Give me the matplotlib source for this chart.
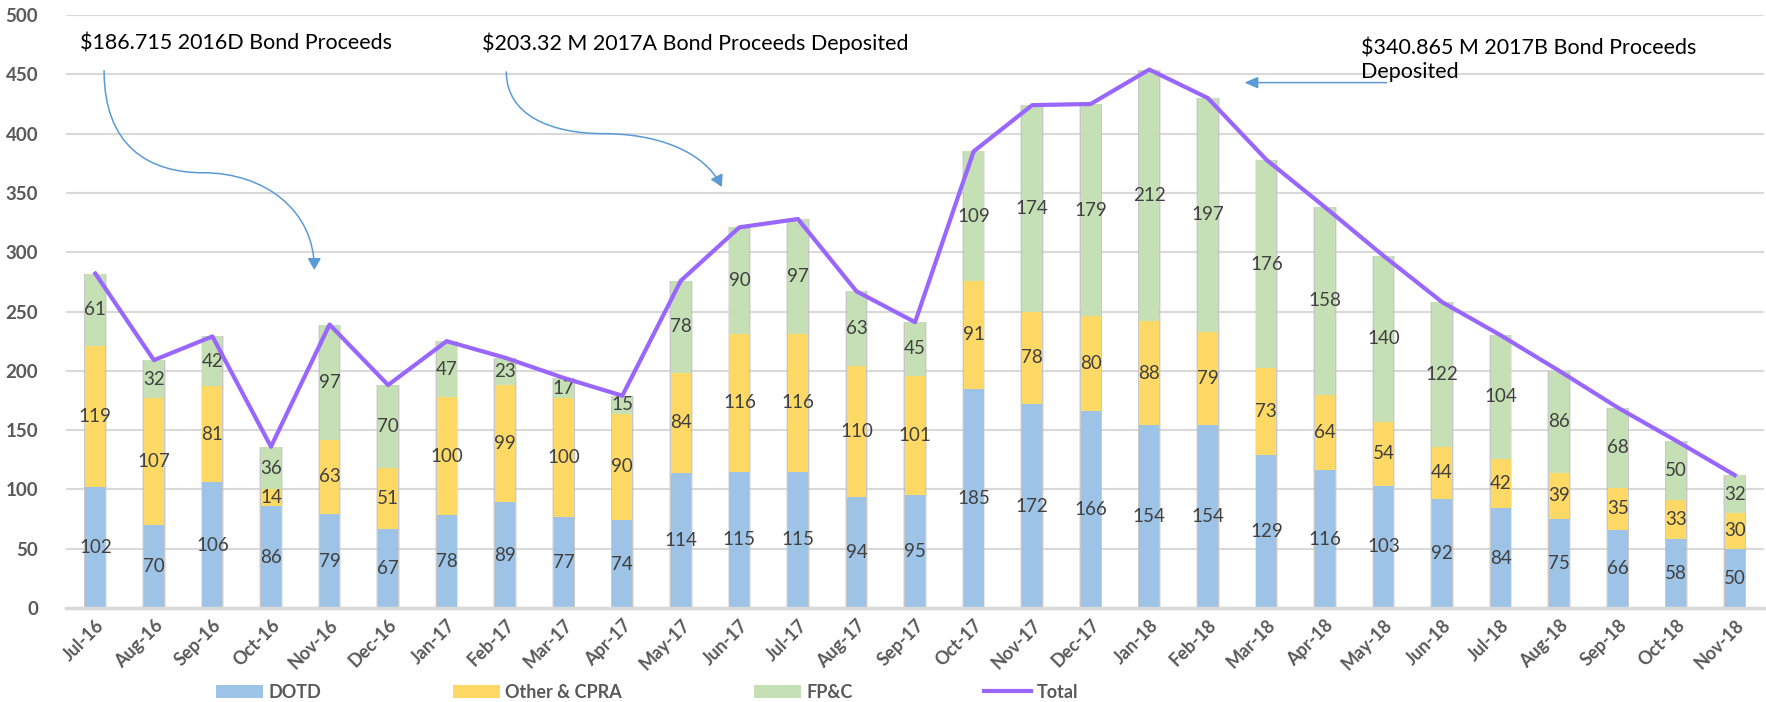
import matplotlib
matplotlib.use('Agg')
import matplotlib.pyplot as plt
import numpy as np
from matplotlib.path import Path
from matplotlib.patches import FancyArrowPatch

plt.rcParams['font.family'] = ['Lato', 'DejaVu Sans']

months = ["Jul-16", "Aug-16", "Sep-16", "Oct-16", "Nov-16", "Dec-16", "Jan-17", "Feb-17",
          "Mar-17", "Apr-17", "May-17", "Jun-17", "Jul-17", "Aug-17", "Sep-17", "Oct-17",
          "Nov-17", "Dec-17", "Jan-18", "Feb-18", "Mar-18", "Apr-18", "May-18", "Jun-18",
          "Jul-18", "Aug-18", "Sep-18", "Oct-18", "Nov-18"]
dotd = [102, 70, 106, 86, 79, 67, 78, 89, 77, 74, 114, 115, 115, 94, 95, 185,
        172, 166, 154, 154, 129, 116, 103, 92, 84, 75, 66, 58, 50]
other_cpra = [119, 107, 81, 14, 63, 51, 100, 99, 100, 90, 84, 116, 116, 110, 101, 91,
              78, 80, 88, 79, 73, 64, 54, 44, 42, 39, 35, 33, 30]
fpc = [61, 32, 42, 36, 97, 70, 47, 23, 17, 15, 78, 90, 97, 63, 45, 109,
       174, 179, 212, 197, 176, 158, 140, 122, 104, 86, 68, 50, 32]

dotd = np.array(dotd)
other_cpra = np.array(other_cpra)
fpc = np.array(fpc)
total = dotd + other_cpra + fpc

c_blue = '#9DC3E6'
c_yellow = '#FFD966'
c_green = '#C5E0B4'
c_purple = '#9966FF'
c_arrow = '#5B9BD5'
grey = '#595959'

fig = plt.figure(figsize=(17.66, 7.02), dpi=100)
ax = fig.add_axes([0.0374, 0.1339, 0.9615, 0.8447])

x = np.arange(len(months))
w = 0.34

# soft shadow behind the bars
ax.bar(x, total, w + 0.06, color='#D0D0D0', alpha=0.5, zorder=1, linewidth=0)
ax.bar(x, total, w + 0.03, color='#A6A6A6', alpha=0.45, zorder=1, linewidth=0)

b1 = ax.bar(x, dotd, w, color=c_blue, label='DOTD', zorder=2)
b2 = ax.bar(x, other_cpra, w, bottom=dotd, color=c_yellow, label='Other & CPRA', zorder=2)
b3 = ax.bar(x, fpc, w, bottom=dotd + other_cpra, color=c_green, label='FP&C', zorder=2)
ln, = ax.plot(x, total, color=c_purple, lw=3, label='Total', zorder=4)

for bars in (b1, b2, b3):
    ax.bar_label(bars, label_type='center', color='#404040', fontsize=13.5, zorder=3)

ax.set_xlim(-0.5, len(months) - 0.5)
ax.set_ylim(0, 500)
ax.set_yticks(np.arange(0, 501, 50))
ax.yaxis.grid(True, color='#D9D9D9', lw=1.5, zorder=0)
ax.set_axisbelow(True)
for s in ['top', 'right', 'left']:
    ax.spines[s].set_visible(False)
ax.spines['bottom'].set_color('#D9D9D9')
ax.spines['bottom'].set_linewidth(2.5)
ax.tick_params(length=0)
ax.tick_params(axis='y', pad=20)
ax.tick_params(axis='x', pad=6)
ax.set_xticks(x)
ax.set_xticklabels(months, rotation=45, ha='right', rotation_mode='anchor')
for t in ax.get_xticklabels():
    t.set_fontsize(13)
    t.set_fontweight('bold')
    t.set_color(grey)
for t in ax.get_yticklabels():
    t.set_fontsize(13.5)
    t.set_fontweight('bold')
    t.set_color(grey)

# annotations
ax.text(-0.27, 476, "$186.715 2016D Bond Proceeds", fontsize=15.5, va='center', ha='left', color='black')
ax.text(6.61, 476, "$203.32 M 2017A Bond Proceeds Deposited", fontsize=15.5, va='center', ha='left', color='black')
ax.text(21.62, 462, "$340.865 M 2017B Bond Proceeds\nDeposited", fontsize=15.5, va='center', ha='left',
        color='black', linespacing=1.25)

def s_arrow(p0, c1, c2, pm, c3, c4, p1):
    verts = [p0, c1, c2, pm, c3, c4, p1]
    codes = [Path.MOVETO] + [Path.CURVE4] * 6
    return FancyArrowPatch(path=Path(verts, codes), arrowstyle='-|>,head_length=7,head_width=4',
                           color=c_arrow, lw=1.1, zorder=5)

ax.add_patch(s_arrow((0.15, 453), (0.15, 390), (0.9, 367), (1.84, 367),
                     (2.9, 367), (3.74, 335), (3.74, 285)))
ax.add_patch(s_arrow((7.02, 452), (7.02, 415), (7.8, 400), (8.67, 400),
                     (9.6, 400), (10.4, 385), (10.7, 355)))
ax.annotate('', xy=(19.58, 443), xytext=(22.1, 443),
            arrowprops=dict(arrowstyle='-|>,head_length=0.8,head_width=0.35', color=c_arrow, lw=1.1))

leg = fig.legend(handles=[b1, b2, b3, ln], loc='center left', bbox_to_anchor=(0.113, 0.014),
                 ncol=4, frameon=False, handlelength=2.6, handleheight=0.75,
                 columnspacing=7.3, handletextpad=0.3,
                 prop={'size': 13, 'weight': 'bold'})
for t in leg.get_texts():
    t.set_color(grey)

fig.savefig('out.png', dpi=100)
